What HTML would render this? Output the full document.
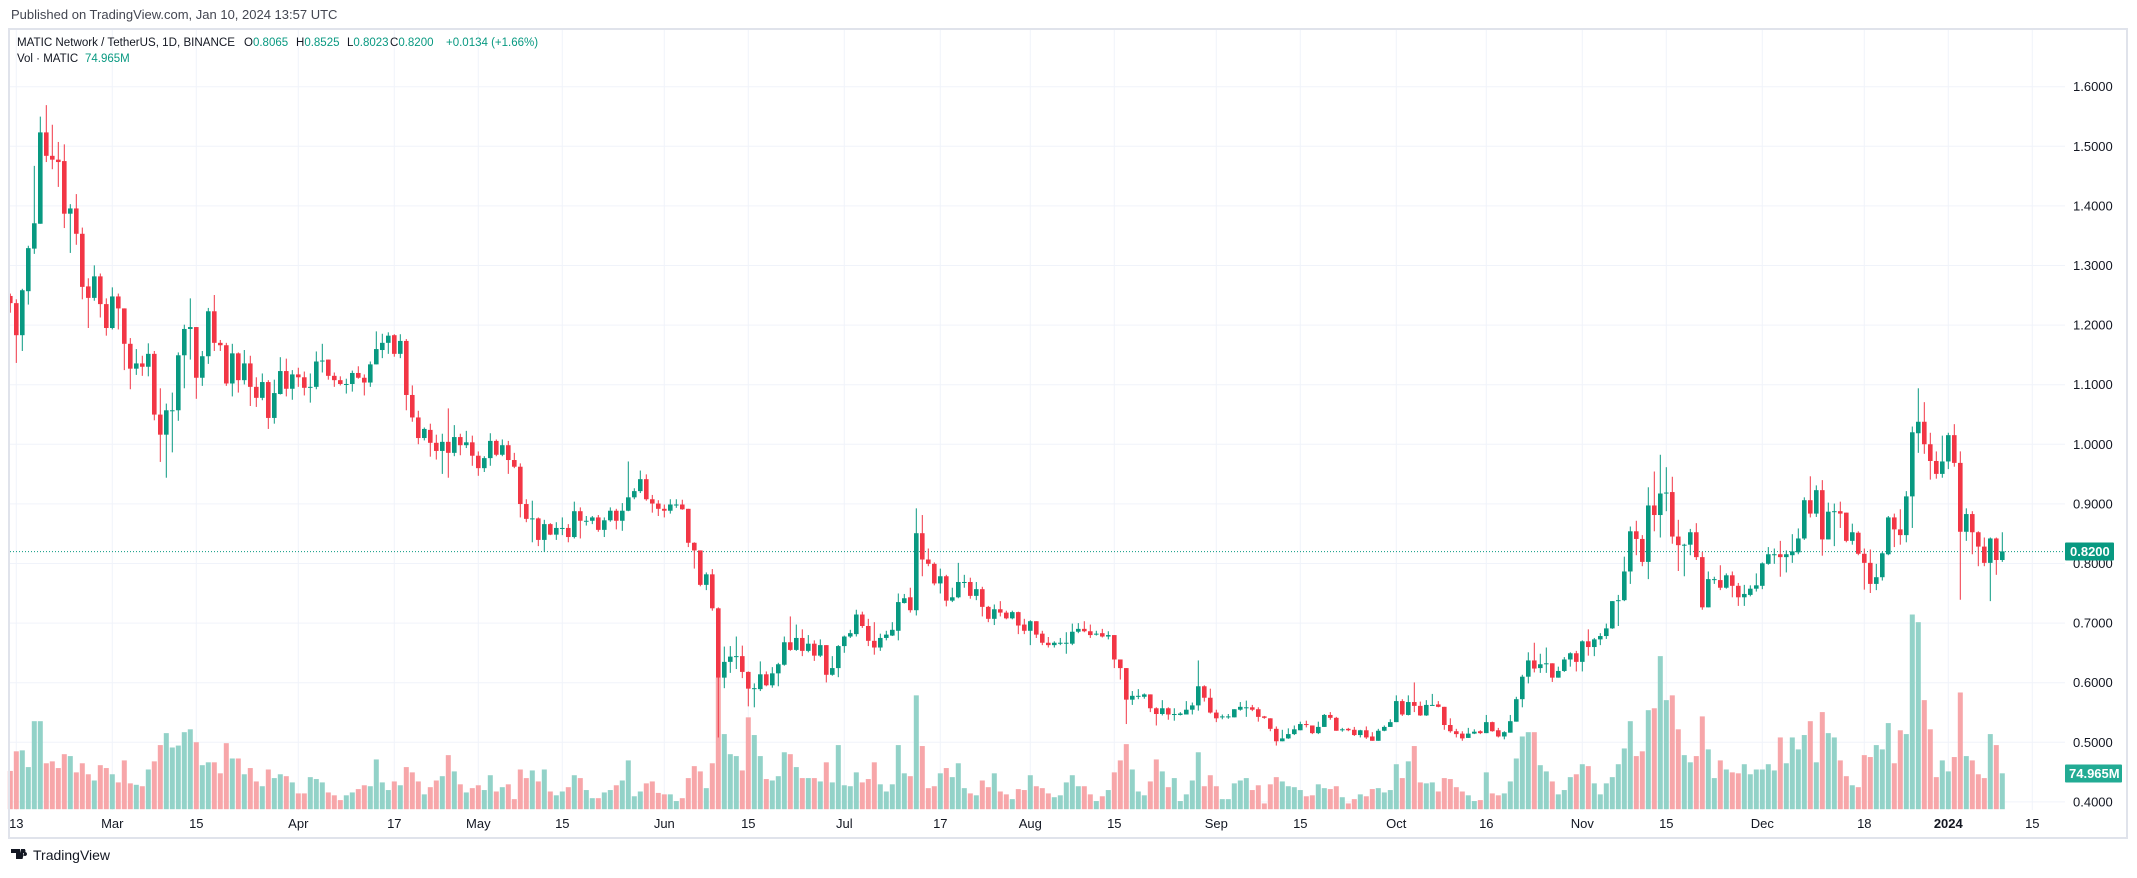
<!DOCTYPE html>
<html><head><meta charset="utf-8">
<style>
html,body{margin:0;padding:0;background:#fff;}
body{width:2137px;height:873px;overflow:hidden;font-family:"Liberation Sans",sans-serif;}
svg text{font-family:"Liberation Sans",sans-serif;}
</style></head>
<body>
<svg id="s" width="2137" height="873" xmlns="http://www.w3.org/2000/svg">
<rect width="2137" height="873" fill="#fff"/>
<g id="grid"></g>
<g id="vol"></g>
<g id="cnd"></g>
<g id="ax"></g>
<text x="11" y="19" font-size="13" fill="#434651">Published on TradingView.com, Jan 10, 2024 13:57 UTC</text>
<rect x="9" y="29" width="2118" height="809" fill="none" stroke="#e0e3eb" stroke-width="2"/>
<g font-size="11.5" fill="#131722">
<text x="17" y="46" textLength="218" lengthAdjust="spacingAndGlyphs">MATIC Network / TetherUS, 1D, BINANCE</text>
<text x="244" y="46">O<tspan fill="#089981">0.8065</tspan></text>
<text x="296" y="46">H<tspan fill="#089981">0.8525</tspan></text>
<text x="347" y="46">L<tspan fill="#089981">0.8023</tspan></text>
<text x="390" y="46">C<tspan fill="#089981">0.8200</tspan></text>
<text x="446" y="46" fill="#089981">+0.0134 (+1.66%)</text>
<text x="17" y="62">Vol · MATIC</text>
<text x="85" y="62" fill="#089981">74.965M</text>
</g>
<g transform="translate(11,848)">
<path d="M0 1h9v10h-4v-6h-5z M10 1h4l-2.5 10h-4z M14 4a2 2 0 1 0 0.01 0z" fill="#131722"/>
<circle cx="12.5" cy="3" r="2" fill="#131722"/>
<text x="22" y="12" font-size="14" fill="#131722">TradingView</text>
</g>
</svg>
<script>
var C=[
"430 445 425 465","445 512 437 570","512 418 415 545","420 330 325 448","331 278 158 342","279 88 55 279","88 137 31 150","137 145 72 165","145 150 108 202","148 258 113 288",
"258 247 238 340","247 300 217 323","300 411 287 437","410 434 393 497","434 389 366 440","389 447 383 475","447 497 435 513","497 431 412 500","431 456 425 500","456 530 456 585",
"530 582 518 625","582 571 541 595","571 578 555 597","578 551 529 598","551 678 545 690","678 720 623 777","720 669 655 810","669 669 632 757","669 554 548 691","554 499 490 623",
"499 495 435 563","495 601 495 645","601 556 545 618","556 462 455 572","462 528 428 545","528 533 522 545","533 613 528 618","613 550 530 640","550 606 548 632","606 571 543 615",
"571 620 555 660","620 643 600 662","643 610 592 648","610 685 606 708","685 633 605 697","635 587 558 636","587 624 561 640","624 594 585 647","594 600 580 620","600 622 588 638",
"620 620 592 653","620 567 546 625","565 565 530 590","563 597 563 605","597 606 590 620","606 614 598 617","614 614 603 634","614 591 586 630","591 601 577 603","601 611 594 638",
"611 573 567 620","573 541 504 573","543 528 509 560","528 513 506 551","512 551 510 557","551 524 510 560","524 637 520 669","637 684 617 693","684 727 670 740","727 708 705 732",
"710 737 697 766","737 754 720 772","754 735 718 802","735 758 665 810","758 725 700 765","725 742 718 763","742 736 712 748","736 764 722 785","764 790 755 806","790 769 765 798",
"769 733 717 785","733 762 730 765","762 742 730 765","742 773 733 802","773 787 758 790","787 865 780 893",
"865 896 855 903","895 895 858 945","895 940 893 953","940 907 898 965","907 929 905 930","929 915 903 940","915 915 893 930","915 934 907 945","934 880 860 937","880 900 872 937",
"900 900 890 910","900 893 890 907","893 919 888 923","919 899 893 934","899 879 872 902","879 900 875 918","900 879 863 921","879 851 776 880","851 838 832 855","838 813 795 842",
"813 855 803 858","855 864 846 883","864 875 857 890","875 879 866 893","879 866 855 885","866 866 855 873","866 876 856 877","875 946 875 955","946 962 945 1000","962 1034 962 1037",
"1034 1012 1008 1045","1012 1083 1001 1088","1083 1228 1081 1353","1228 1195 1163 1250","1195 1184 1162 1218","1183 1183 1142 1210","1183 1216 1161 1229","1216 1251 1215 1288","1250 1250 1240 1290","1252 1221 1194 1256",
"1221 1244 1215 1246","1244 1219 1206 1249","1219 1200 1197 1246","1201 1154 1142 1203","1154 1170 1100 1172","1170 1145 1117 1172","1145 1172 1127 1183","1172 1157 1139 1175","1157 1182 1150 1193","1182 1160 1148 1185",
"1160 1222 1160 1238","1222 1208 1183 1224","1208 1162 1160 1227","1162 1142 1140 1176","1142 1135 1128 1145","1137 1096 1086 1142","1096 1120 1090 1124","1120 1151 1105 1162","1151 1165 1112 1180","1165 1145 1136 1172",
"1145 1138 1130 1150","1140 1128 1112 1141","1130 1070 1052 1150","1072 1062 1053 1073","1060 1087 1040 1092","1087 926 874 1098","926 981 888 1016","981 990 958 995","990 1031 987 1035","1031 1016 1000 1052",
"1016 1067 1013 1079","1067 1060 1040 1070","1060 1028 988 1062","1028 1028 1013 1040","1028 1057 1019 1063","1057 1043 1028 1066","1043 1080 1038 1100","1080 1105 1078 1112","1105 1085 1075 1118","1085 1092 1068 1100",
"1092 1104 1088 1106","1104 1091 1088 1106","1091 1119 1090 1137","1117 1130 1105 1137",
"1130 1110 1108 1160","1110 1138 1110 1145","1136 1155 1130 1160","1155 1160 1143 1165","1160 1155 1152 1165","1155 1155 1145 1160","1155 1155 1133 1178","1157 1132 1115 1160","1132 1126 1114 1135","1126 1131 1110 1133",
"1131 1139 1117 1145","1136 1136 1130 1140","1135 1142 1126 1144","1142 1139 1131 1148","1139 1190 1139 1208","1190 1208 1190 1232","1208 1274 1208 1325","1274 1266 1256 1285","1266 1266 1252 1273","1268 1263 1261 1272",
"1263 1292 1263 1300","1292 1304 1290 1328","1304 1292 1275 1307","1292 1305 1290 1316","1304 1304 1292 1318","1306 1303 1300 1307","1305 1295 1277 1305","1295 1286 1280 1305","1286 1246 1192 1297","1246 1270 1244 1278",
"1270 1301 1251 1303","1301 1313 1295 1321","1309 1309 1305 1315","1309 1309 1304 1314","1311 1294 1294 1311","1295 1289 1279 1297","1290 1290 1276 1310","1290 1295 1285 1298","1294 1310 1290 1320","1309 1312 1308 1314",
"1313 1335 1313 1340","1335 1361 1330 1370","1361 1355 1337 1361","1355 1346 1334 1356","1346 1336 1328 1348","1338 1325 1320 1338","1325 1327 1318 1332","1328 1344 1328 1346","1344 1331 1320 1346","1331 1306 1304 1331",
"1306 1312 1300 1316","1312 1339 1310 1339","1336 1336 1333 1341","1335 1338 1333 1340","1337 1348 1331 1350","1348 1338 1337 1353","1338 1353 1330 1356","1351 1360 1342 1360","1360 1339 1335 1360","1339 1331 1328 1340",
"1331 1321 1315 1331","1321 1277 1265 1321","1277 1305 1273 1308","1306 1279 1265 1307","1279 1287 1238 1300","1287 1307 1278 1308","1307 1285 1275 1308","1285 1285 1262 1286","1284 1289 1277 1290","1289 1327 1289 1337",
"1327 1340 1313 1343","1340 1346 1335 1353","1345 1355 1340 1360","1354 1345 1333 1354","1345 1341 1336 1346","1340 1344 1338 1346","1344 1321 1306 1344","1321 1340 1320 1341","1338 1351 1333 1353","1351 1342 1340 1357",
"1343 1319 1306 1343","1320 1273 1268 1320","1273 1226 1222 1290","1226 1192 1175 1240","1192 1209 1155 1217",
"1208 1200 1178 1218","1198 1198 1165 1218","1198 1228 1198 1237","1228 1214 1205 1228","1214 1190 1185 1216","1190 1177 1175 1205","1177 1195 1172 1215","1195 1152 1150 1215","1152 1164 1127 1182","1164 1148 1145 1183",
"1148 1141 1135 1160","1141 1125 1115 1147","1125 1068 1068 1126","1068 1066 1055 1120","1066 1006 975 1068","1006 922 912 1032","922 938 900 972","938 986 930 995","986 868 830 1022","868 888 797 922",
"888 843 762 935","841 841 788 880","840 933 808 948","933 951 898 1005","950 950 948 1016","950 924 917 972","924 976 905 982","976 1081 965 1086","1081 1022 1006 1081","1022 1022 1017 1032",
"1024 1040 993 1045","1040 1014 1010 1042","1014 1036 1006 1060","1036 1060 1030 1078","1060 1053 1034 1078","1055 1042 1035 1058","1042 1035 1010 1048","1036 989 987 1043","990 970 955 992","970 970 958 990",
"970 976 942 1017","976 970 962 1008","972 964 928 988","966 937 916 970","937 857 851 940","857 885 807 893","885 836 826 892","836 939 815 973","939 881 862 939","880 880 864 953",
"880 885 860 915","883 942 883 945","942 924 906 950","925 969 922 972","969 988 958 1044","988 1032 960 1051","1032 1018 990 1045","1018 968 965 1025","970 893 890 972","893 918 885 955",
"918 930 876 950","930 849 838 945","849 715 703 915","717 693 623 758","693 740 652 760","740 775 716 814","775 802 755 812","802 776 722 810","776 721 716 792","721 779 698 787",
"779 923 755 1065","923 886 874 942","886 924 880 970","924 954 922 995","954 988 935 995","988 937 935 1068","937 982 935 1013","982 964 924 986"];
var V=[1423,1382,1380,1415,1319,1319,1407,1403,1417,1388,1392,1426,1407,1430,1443,1411,1417,1430,1447,1401,1449,1452,1455,1420,1403,1369,1344,1374,1370,1342,1336,1363,1411,1405,1405,1428,1365,1397,1397,1430,1417,1445,1455,1420,1438,1430,1434,1447,1470,1470,1436,1440,1447,1468,1474,1484,1474,1468,1461,1453,1455,1399,1447,1463,1445,1453,1415,1426,1445,1472,1457,1443,1434,1390,1424,1451,1468,1459,1453,1463,1432,1466,1457,1451,1482,1420,
1438,1422,1445,1420,1466,1474,1466,1457,1432,1438,1463,1480,1480,1468,1463,1453,1443,1401,1476,1466,1449,1445,1469,1472,1472,1486,1480,1438,1413,1424,1459,1407,1228,1346,1388,1392,1422,1311,1348,1392,1440,1443,1434,1384,1388,1415,1438,1438,1438,1445,1405,1447,1369,1453,1455,1426,1447,1440,1405,1451,1466,1451,1369,1428,1434,1265,1371,1459,1455,1428,1417,1436,1407,1459,1470,1474,1443,1457,1428,1466,1472,1482,1461,1463,1432,
1455,1459,1470,1478,1474,1447,1432,1455,1455,1472,1486,1476,1463,1426,1401,1367,1420,1466,1474,1445,1399,1424,1457,1438,1486,1472,1443,1384,1455,1432,1455,1482,1482,1449,1443,1438,1463,1453,1491,1451,1436,1445,1455,1457,1463,1476,1474,1451,1459,1461,1455,1478,1491,1482,1472,1476,1461,1459,1468,1463,1409,1438,1403,1371,1447,1449,1447,1466,1438,1440,1457,1466,1474,1486,1484,1426,1470,1474,1470,1445,1397,1351,1342,1342,
1411,1424,1445,1472,1463,1436,1430,1409,1413,1449,1472,1449,1436,1409,1376,1319,1392,1382,1296,1292,1183,1275,1265,1336,1390,1405,1392,1309,1378,1438,1401,1420,1426,1428,1409,1430,1420,1420,1409,1422,1353,1407,1353,1378,1348,1319,1405,1300,1344,1353,1401,1434,1453,1457,1390,1394,1369,1378,1323,1407,1338,1346,1096,1112,1275,1336,1436,1401,1424,1394,1259,1392,1401,1430,1438,1346,1369,1428];
var NS="http://www.w3.org/2000/svg";
function el(p,t,a,txt){var e=document.createElementNS(NS,t);for(var k in a)e.setAttribute(k,a[k]);if(txt!==undefined)e.textContent=txt;p.appendChild(e);return e;}
function Y(z){return 90.3+z*0.4783;}
function PY(p){return 86.7+(1.6-p)*596;}
function X(n){return 4.3+6*n;}
var g=document.getElementById('grid'),ax=document.getElementById('ax');
for(var i=4;i<=16;i++){var p=i/10,y=PY(p);
 el(g,'line',{x1:10,x2:2065,y1:y,y2:y,stroke:'#f0f3fa','stroke-width':1});
 el(ax,'text',{x:2073,y:y+4.5,'font-size':13,fill:'#131722'},p.toFixed(4));}
var dl=[[2,'13'],[18,'Mar'],[32,'15'],[49,'Apr'],[65,'17'],[79,'May'],[93,'15'],[110,'Jun'],[124,'15'],[140,'Jul'],[156,'17'],[171,'Aug'],[185,'15'],[202,'Sep'],[216,'15'],[232,'Oct'],[247,'16'],[263,'Nov'],[277,'15'],[293,'Dec'],[310,'18'],[324,'2024'],[338,'15']];
dl.forEach(function(d){var x=X(d[0]);
 el(g,'line',{x1:x,x2:x,y1:30,y2:810,stroke:'#f0f3fa','stroke-width':1});
 var t=el(ax,'text',{x:x,y:828,'font-size':13,fill:'#131722','text-anchor':'middle'},d[1]);
 if(d[1]=='2024')t.setAttribute('font-weight','bold');});
el(g,'line',{x1:10,x2:2065,y1:551.6,y2:551.6,stroke:'#089981','stroke-width':1,'stroke-dasharray':'1 2'});
var vg=document.getElementById('vol'),cg=document.getElementById('cnd');
var cols=[];
C.forEach(function(s,i){var a=s.split(' ').map(Number),n=i+1,x=X(n);
 var up=a[1]<=a[0];cols.push(up);
 var col=up?'#089981':'#f23645';
 el(cg,'line',{x1:x,x2:x,y1:Y(a[2]),y2:Y(a[3]),stroke:col,'stroke-width':1});
 var t=Y(Math.min(a[0],a[1])),b=Y(Math.max(a[0],a[1]));
 el(cg,'rect',{x:x-2.3,y:t,width:4.6,height:Math.max(1,b-t),fill:col});});
V.forEach(function(v,i){var x=X(i+1),t=Y(v),b=809.2;
 el(vg,'rect',{x:x-2.5,y:t,width:5,height:b-t,fill:cols[i]?'#92d2c8':'#f7a6a9'});});
el(ax,'rect',{x:2065,y:542.5,width:49,height:18,fill:'#089981',rx:1});
el(ax,'text',{x:2070,y:556,'font-size':13,fill:'#fff','font-weight':'bold'},'0.8200');
el(ax,'rect',{x:2065,y:764.5,width:57,height:18,fill:'#22ab94',rx:1});
el(ax,'text',{x:2069,y:778,'font-size':13,fill:'#fff','font-weight':'bold'},'74.965M');
</script>
</body></html>
